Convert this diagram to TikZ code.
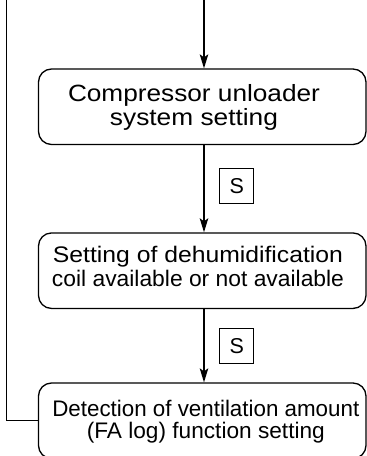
\documentclass[tikz,border=0pt]{standalone}
\usepackage{fontspec}
\usepackage{graphicx}
\setmainfont{Liberation Sans}
\usetikzlibrary{arrows.meta,calc}
\newcommand{\fitline}[2]{\resizebox{#1}{\height}{#2}}
\begin{document}
\begin{tikzpicture}[x=1pt,y=-1pt,
  line width=1.3pt,
  box/.style={draw, rounded corners=13pt, minimum width=327.5pt, minimum height=75.5pt, inner sep=0pt},
  txt/.style={align=center, inner sep=0pt, text depth=0pt, anchor=south},
  sbox/.style={draw, minimum width=34pt, minimum height=34.5pt, inner sep=0pt, line width=1.1pt, font=\fontsize{21.5}{21.5}\selectfont},
  flow/.style={-{Stealth[length=14pt,width=8.5pt,inset=3pt]}}]
\useasboundingbox (0,0) rectangle (367,456);
\clip (-1,-1) rectangle (368,456);

\node[box] (b1) at (202.25,106.75) {};
\node[box] (b2) at (202.25,270.7) {};
\node[box] (b3) at (202.25,420.75) {};

\node[txt, font={\fontsize{23.5}{24}\selectfont}] (t1) at (194,126)
  {\fitline{252pt}{Compressor unloader}\\\fitline{168pt}{system setting}};
\node[txt, font={\fontsize{22.5}{23.7}\selectfont}] (t2) at (198,286.7)
  {\fitline{290pt}{Setting of dehumidification}\\\fitline{292pt}{coil available or not available}};
\node[txt, font={\fontsize{22.5}{22.3}\selectfont}] (t3) at (205.8,439)
  {\fitline{307pt}{Detection of ventilation amount}\\\fitline{238pt}{(FA log) function setting}};

\node[sbox] (s1) at (236.8,186) {S};
\node[sbox] (s2) at (236.7,345.8) {S};

\coordinate (top) at (204,0);
\coordinate (lt) at (6.5,0);

\draw[flow] (top) -- (top |- b1.north);
\draw[flow] (b1.south -| top) -- (b2.north -| top);
\draw[flow] (b2.south -| top) -- (b3.north -| top);
\draw (lt) |- (b3.west);
\end{tikzpicture}
\end{document}
